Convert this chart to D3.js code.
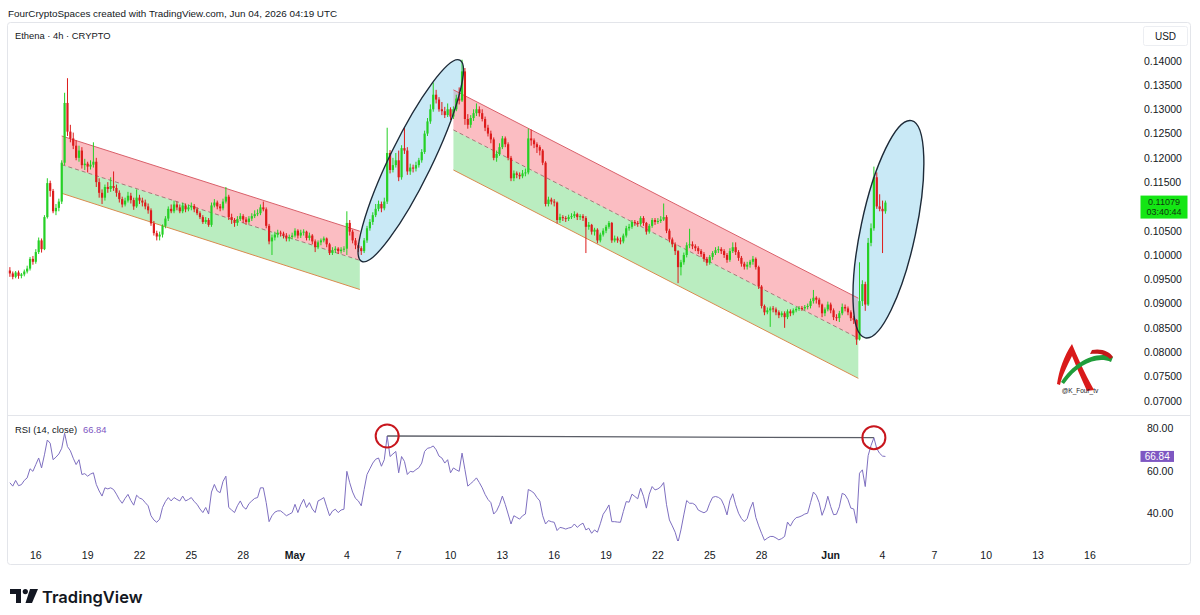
<!DOCTYPE html>
<html><head><meta charset="utf-8">
<script src="https://cdn.jsdelivr.net/npm/d3@7"></script>
<style>
html,body{margin:0;padding:0;background:#fff;}
svg{display:block;font-family:"Liberation Sans",Arial,sans-serif;}
</style></head><body>
<svg id="chart" width="1200" height="615"></svg>
<script>
// ---------------- DATA ----------------
const headerText = "FourCryptoSpaces created with TradingView.com, Jun 04, 2026 04:19 UTC";
const symbolText = "Ethena · 4h · CRYPTO";
const firstCandleTime = "2026-04-14T12:00:00Z";
const candleHours = 4;
// [open, high, low, close] in USD, one per 4h candle
const candles = [
[.0968,.0975,.0955,.0962],[.0962,.0966,.0950,.0955],[.0955,.0967,.0952,.0964],[.0964,.0968,.0951,.0957],[.0957,.0963,.0952,.0960],
[.0960,.0970,.0956,.0966],[.0966,.0978,.0962,.0972],[.0972,.0996,.0968,.0992],[.0992,.0998,.0980,.0986],[.0986,.1012,.0982,.1006],
[.1006,.1036,.1002,.1030],[.1030,.1034,.1005,.1012],[.1012,.1082,.1010,.1078],[.1078,.1158,.1075,.1148],[.1148,.1153,.1120,.1132],
[.1132,.1136,.1086,.1090],[.1090,.1105,.1082,.1097],[.1097,.1116,.1090,.1110],[.1110,.1195,.1105,.1190],[.1190,.1334,.1185,.1313],
[.1313,.1364,.1245,.1254],[.1254,.1268,.1232,.1240],[.1240,.1252,.1218,.1225],[.1225,.1236,.1195,.1200],[.1200,.1225,.1192,.1215],
[.1215,.1222,.1178,.1185],[.1185,.1198,.1175,.1188],[.1188,.1192,.1170,.1182],[.1182,.1195,.1176,.1186],[.1186,.1232,.1180,.1192],
[.1192,.1200,.1140,.1150],[.1150,.1158,.1118,.1128],[.1128,.1135,.1105,.1118],[.1118,.1145,.1112,.1140],[.1140,.1150,.1128,.1136],
[.1136,.1160,.1130,.1142],[.1142,.1172,.1132,.1138],[.1138,.1145,.1120,.1128],[.1128,.1133,.1108,.1115],[.1115,.1120,.1098,.1104],
[.1104,.1118,.1100,.1112],[.1112,.1130,.1108,.1122],[.1122,.1128,.1106,.1113],[.1113,.1118,.1093,.1100],[.1100,.1135,.1097,.1118],
[.1118,.1124,.1105,.1112],[.1112,.1118,.1100,.1108],[.1108,.1114,.1094,.1100],[.1100,.1106,.1085,.1092],[.1092,.1096,.1060,.1065],
[.1065,.1070,.1040,.1045],[.1045,.1050,.1030,.1038],[.1038,.1048,.1030,.1042],[.1042,.1063,.1036,.1060],[.1060,.1080,.1055,.1075],
[.1075,.1100,.1070,.1095],[.1095,.1104,.1086,.1090],[.1090,.1112,.1086,.1104],[.1104,.1110,.1092,.1098],[.1098,.1104,.1086,.1090],
[.1090,.1108,.1086,.1102],[.1102,.1106,.1088,.1094],[.1094,.1104,.1090,.1098],[.1098,.1108,.1092,.1101],[.1101,.1105,.1088,.1094],
[.1094,.1098,.1082,.1086],[.1086,.1090,.1074,.1078],[.1078,.1082,.1064,.1068],[.1068,.1078,.1064,.1072],[.1072,.1076,.1058,.1062],
[.1062,.1108,.1058,.1102],[.1102,.1115,.1098,.1108],[.1108,.1112,.1094,.1100],[.1100,.1105,.1090,.1096],[.1096,.1116,.1092,.1110],
[.1110,.1140,.1106,.1120],[.1120,.1124,.1072,.1078],[.1078,.1085,.1064,.1072],[.1072,.1076,.1058,.1066],[.1066,.1080,.1060,.1074],
[.1074,.1086,.1070,.1080],[.1080,.1084,.1066,.1073],[.1073,.1078,.1062,.1068],[.1068,.1080,.1064,.1075],[.1075,.1086,.1070,.1080],
[.1080,.1092,.1076,.1084],[.1084,.1094,.1080,.1086],[.1086,.1104,.1082,.1098],[.1098,.1110,.1090,.1094],[.1094,.1098,.1055,.1060],
[.1060,.1064,.1022,.1028],[.1028,.1042,.1000,.1036],[.1036,.1048,.1030,.1042],[.1042,.1052,.1036,.1046],[.1046,.1050,.1038,.1044],
[.1044,.1048,.1034,.1040],[.1040,.1045,.1028,.1034],[.1034,.1042,.1028,.1037],[.1037,.1046,.1032,.1040],[.1040,.1055,.1036,.1050],
[.1050,.1053,.1034,.1040],[.1040,.1052,.1035,.1046],[.1046,.1053,.1040,.1048],[.1048,.1050,.1030,.1035],[.1035,.1046,.1030,.1040],
[.1040,.1043,.1022,.1028],[.1028,.1032,.1006,.1016],[.1016,.1030,.1012,.1026],[.1026,.1034,.1020,.1030],[.1030,.1038,.1026,.1034],
[.1034,.1036,.1016,.1022],[.1022,.1025,.1000,.1004],[.1004,.1016,.1000,.1010],[.1010,.1018,.1004,.1013],[.1013,.1016,.1002,.1008],
[.1008,.1016,.1003,.1011],[.1011,.1018,.1006,.1013],[.1013,.1090,.1000,.1066],[.1066,.1072,.1040,.1048],[.1048,.1052,.1024,.1030],
[.1030,.1035,.1012,.1020],[.1020,.1025,.1006,.1014],[.1014,.1018,.1000,.1008],[.1008,.1035,.1004,.1030],[.1030,.1060,.1025,.1055],
[.1055,.1074,.1050,.1068],[.1068,.1088,.1062,.1082],[.1082,.1105,.1078,.1095],[.1095,.1112,.1090,.1105],[.1105,.1110,.1088,.1096],
[.1096,.1118,.1092,.1110],[.1110,.1262,.1105,.1210],[.1210,.1216,.1168,.1175],[.1175,.1200,.1170,.1185],[.1185,.1210,.1180,.1195],
[.1195,.1215,.1152,.1160],[.1160,.1226,.1155,.1220],[.1220,.1262,.1208,.1215],[.1215,.1222,.1165,.1172],[.1172,.1188,.1165,.1180],
[.1180,.1186,.1170,.1178],[.1178,.1192,.1172,.1185],[.1185,.1200,.1180,.1195],[.1195,.1218,.1190,.1212],[.1212,.1256,.1208,.1250],
[.1250,.1282,.1245,.1275],[.1275,.1310,.1270,.1300],[.1300,.1355,.1295,.1330],[.1330,.1340,.1312,.1320],[.1320,.1325,.1295,.1300],
[.1300,.1315,.1288,.1296],[.1296,.1305,.1282,.1288],[.1288,.1312,.1284,.1300],[.1300,.1304,.1278,.1285],[.1285,.1306,.1280,.1300],
[.1300,.1330,.1296,.1322],[.1322,.1345,.1310,.1318],[.1318,.1402,.1315,.1378],[.1378,.1385,.1268,.1280],[.1280,.1290,.1260,.1268],
[.1268,.1288,.1262,.1282],[.1282,.1300,.1276,.1292],[.1292,.1312,.1286,.1300],[.1300,.1306,.1285,.1292],[.1292,.1300,.1275,.1280],
[.1280,.1285,.1255,.1262],[.1262,.1268,.1244,.1250],[.1250,.1256,.1230,.1238],[.1238,.1242,.1195,.1200],[.1200,.1215,.1192,.1208],
[.1208,.1230,.1204,.1222],[.1222,.1245,.1218,.1240],[.1240,.1244,.1222,.1228],[.1228,.1232,.1195,.1200],[.1200,.1204,.1152,.1158],
[.1158,.1174,.1152,.1168],[.1168,.1172,.1158,.1165],[.1165,.1170,.1156,.1162],[.1162,.1175,.1158,.1168],[.1168,.1178,.1162,.1170],
[.1170,.1260,.1166,.1240],[.1240,.1258,.1225,.1236],[.1236,.1240,.1220,.1228],[.1228,.1232,.1210,.1222],[.1222,.1226,.1205,.1215],
[.1215,.1218,.1185,.1190],[.1190,.1193,.1100,.1105],[.1105,.1120,.1100,.1114],[.1114,.1118,.1104,.1110],[.1110,.1115,.1100,.1108],
[.1108,.1110,.1065,.1072],[.1072,.1085,.1066,.1078],[.1078,.1082,.1070,.1076],[.1076,.1080,.1068,.1074],[.1074,.1083,.1070,.1078],
[.1078,.1086,.1074,.1080],[.1080,.1090,.1076,.1084],[.1084,.1087,.1072,.1078],[.1078,.1084,.1072,.1080],[.1080,.1084,.1070,.1076],
[.1076,.1080,.1004,.1058],[.1058,.1068,.1052,.1062],[.1062,.1064,.1042,.1048],[.1048,.1056,.1040,.1052],[.1052,.1055,.1024,.1030],
[.1030,.1046,.1026,.1042],[.1042,.1055,.1038,.1050],[.1050,.1062,.1045,.1058],[.1058,.1070,.1054,.1066],[.1066,.1068,.1025,.1030],
[.1030,.1040,.1026,.1034],[.1034,.1038,.1025,.1030],[.1030,.1036,.1022,.1028],[.1028,.1044,.1024,.1040],[.1040,.1060,.1036,.1055],
[.1055,.1064,.1050,.1058],[.1058,.1072,.1054,.1068],[.1068,.1072,.1060,.1066],[.1066,.1070,.1058,.1064],[.1064,.1080,.1060,.1076],
[.1076,.1080,.1060,.1066],[.1066,.1068,.1042,.1048],[.1048,.1064,.1044,.1060],[.1060,.1076,.1056,.1072],[.1072,.1076,.1062,.1068],
[.1068,.1076,.1064,.1070],[.1070,.1080,.1066,.1073],[.1073,.1106,.1070,.1078],[.1078,.1082,.1045,.1050],[.1050,.1054,.1026,.1032],
[.1032,.1036,.1016,.1022],[.1022,.1026,.1000,.1008],[.1008,.1010,.0942,.0975],[.0975,.0990,.0958,.0985],[.0985,.1005,.0980,.1000],
[.1000,.1026,.0995,.1020],[.1020,.1054,.1014,.1022],[.1022,.1028,.1012,.1018],[.1018,.1022,.1008,.1014],[.1014,.1018,.1002,.1008],
[.1008,.1012,.0996,.1002],[.1002,.1006,.0986,.0992],[.0992,.0996,.0978,.0984],[.0984,.1000,.0980,.0996],[.0996,.1008,.0990,.1004],
[.1004,.1016,.1000,.1010],[.1010,.1018,.1004,.1012],[.1012,.1016,.1002,.1008],[.1008,.1012,.0994,.1000],[.1000,.1004,.0984,.0990],
[.0990,.1014,.0986,.1008],[.1008,.1026,.1004,.1016],[.1016,.1026,.1000,.1006],[.1006,.1010,.0988,.0994],[.0994,.0998,.0976,.0982],
[.0982,.0986,.0970,.0976],[.0976,.0986,.0970,.0980],[.0980,.0990,.0974,.0986],[.0986,.0998,.0980,.0992],[.0992,.0995,.0970,.0975],
[.0975,.0978,.0930,.0935],[.0935,.0938,.0890,.0895],[.0895,.0898,.0876,.0882],[.0882,.0892,.0878,.0886],[.0886,.0894,.0852,.0890],
[.0890,.0895,.0882,.0888],[.0888,.0892,.0876,.0882],[.0882,.0886,.0870,.0876],[.0876,.0884,.0872,.0880],[.0880,.0884,.0850,.0872],
[.0872,.0888,.0868,.0884],[.0884,.0888,.0874,.0880],[.0880,.0890,.0876,.0886],[.0886,.0893,.0882,.0889],[.0889,.0895,.0885,.0891],
[.0891,.0895,.0885,.0890],[.0890,.0897,.0886,.0893],[.0893,.0900,.0888,.0895],[.0895,.0910,.0890,.0905],[.0905,.0928,.0900,.0912],
[.0912,.0915,.0900,.0908],[.0908,.0912,.0892,.0898],[.0898,.0900,.0872,.0880],[.0880,.0892,.0874,.0888],[.0888,.0904,.0884,.0898],
[.0898,.0902,.0880,.0886],[.0886,.0890,.0866,.0872],[.0872,.0878,.0864,.0870],[.0870,.0885,.0862,.0880],[.0880,.0900,.0876,.0893],
[.0893,.0898,.0884,.0890],[.0890,.0894,.0876,.0882],[.0882,.0886,.0864,.0870],[.0870,.0875,.0858,.0866],[.0866,.0868,.0815,.0826],
[.0826,.0985,.0824,.0905],[.0905,.0948,.0895,.0940],[.0940,.0945,.0885,.0898],[.0898,.1035,.0895,.1025],[.1025,.1065,.1018,.1055],
[.1055,.1182,.1050,.1160],[.1160,.1170,.1095,.1100],[.1100,.1125,.1090,.1095],[.1095,.1112,.1004,.1090],[.1090,.1112,.1085,.11079]
];
// RSI(14, close), one value per candle
const rsiValues = [
54.4,52.8,55.5,53.0,53.5,55.5,56.7,61.0,59.8,63.0,
66.1,61.4,67.6,74.6,73.1,65.3,66.5,68.0,70.7,77.8,
71.5,69.5,66.0,63.0,65.3,58.3,58.7,57.5,58.5,59.1,
53.6,50.5,48.1,52.0,51.5,52.0,51.2,49.0,46.5,44.7,
47.0,48.9,46.0,43.8,48.5,47.2,46.6,45.0,43.5,38.8,
36.8,35.7,37.2,42.7,45.5,47.4,45.8,47.4,46.5,45.8,
48.1,45.8,46.5,47.4,45.5,44.2,42.0,40.3,42.7,39.6,
50.0,53.6,50.5,49.7,55.0,57.5,42.7,41.5,40.3,43.5,
45.8,43.0,41.9,44.5,45.8,47.0,47.4,52.0,52.0,45.0,
36.0,38.8,40.5,41.1,41.1,40.0,38.8,39.5,40.3,44.2,
40.3,44.0,46.6,42.7,45.0,42.0,40.3,45.8,46.5,47.4,
43.0,38.8,41.0,41.9,40.3,41.5,41.9,59.8,54.4,50.0,
47.0,45.8,43.5,51.2,58.3,61.0,63.7,65.5,66.1,62.2,
65.3,76.5,66.8,68.0,69.2,59.1,66.8,64.5,58.3,59.8,
59.5,60.6,61.5,63.7,69.2,70.7,71.0,71.8,70.0,67.0,
66.1,63.7,65.3,59.1,61.4,60.5,59.8,68.4,60.6,52.8,
54.0,55.2,56.7,54.5,52.0,48.9,46.5,45.0,39.6,41.1,
44.0,48.1,44.2,39.6,34.9,38.8,38.0,37.2,38.8,39.6,
51.2,50.5,49.5,47.4,45.8,38.8,34.9,36.5,36.0,35.7,
31.8,33.3,33.0,32.5,33.0,33.3,34.9,33.3,34.5,35.3,
32.1,32.9,30.5,32.1,31.0,35.0,39.5,41.5,43.9,36.0,
36.0,35.8,35.7,40.8,45.5,45.2,49.0,47.9,46.8,51.8,
48.0,42.4,49.0,52.6,51.0,51.5,52.5,54.5,44.0,36.8,
34.0,31.0,26.3,32.1,39.2,46.0,44.7,44.7,43.9,41.5,
40.8,40.2,41.0,44.7,47.5,47.9,47.5,46.5,43.5,39.2,
46.0,49.2,44.0,40.0,37.5,36.0,37.5,42.0,45.2,38.0,
34.0,30.5,27.2,28.2,29.0,29.0,28.3,27.4,28.0,29.0,
35.8,33.9,36.4,37.9,38.2,38.8,39.6,40.0,45.0,50.0,
48.5,45.0,39.0,42.5,48.0,43.1,39.3,39.5,43.0,49.4,
48.7,46.4,42.4,42.0,35.3,58.9,60.5,52.6,67.2,72.0,
75.7,70.5,68.3,67.0,66.84
];
// visible price-scale labels (0.11000 is covered by the last-price tag in the reference)
const priceTicks = [0.07,0.075,0.08,0.085,0.09,0.095,0.10,0.105,0.115,0.12,0.125,0.13,0.135,0.14];
const rsiTicks = [40,60,80];
const dateTicks = ["2026-04-16","2026-04-19","2026-04-22","2026-04-25","2026-04-28","2026-05-01","2026-05-04","2026-05-07","2026-05-10","2026-05-13","2026-05-16","2026-05-19","2026-05-22","2026-05-25","2026-05-28","2026-06-01","2026-06-04","2026-06-07","2026-06-10","2026-06-13","2026-06-16"];
const dateTickLabels = ["16","19","22","25","28","May","4","7","10","13","16","19","22","25","28","Jun","4","7","10","13","16"];
// regression channels: [time, upper price, lower price] at start and end
const channelStarts = [["2026-04-17T12:00:00Z",0.1245,0.1127],["2026-05-10T04:00:00Z",0.1340,0.1175]];
const channelEnds   = [["2026-05-04T18:00:00Z",0.1049,0.0929],["2026-06-02T14:24:00Z",0.0911,0.0746]];
// highlight ellipses: centre time, centre price
const ellipseCentres = [["2026-05-07T16:48:00Z",0.1194],["2026-06-04T08:10:00Z",0.1053]];
// RSI peaks that are circled and joined (candle index)
const rsiPeakIndexes = [131, 300];
const lastPrice = 0.11079, countdown = "03:40:44", lastRsi = 66.84;

// ---------------- DRAW ----------------
const svg = d3.select("#chart");
const W = 1200, H = 615;
const t0 = new Date(firstCandleTime).getTime();
const times = candles.map((d,i)=> new Date(t0 + i*candleHours*3600e3));

const x = d3.scaleUtc().domain([new Date("2026-04-16T00:00:00Z"), new Date("2026-06-16T00:00:00Z")]).range([35.8, 1089.9]);
const yP = d3.scaleLinear().domain([0.07,0.14]).range([400.7,60.7]);
const yR = d3.scaleLinear().domain([40,80]).range([513.2,428.6]);

const UP = "#25d025", DOWN = "#dd1c1c", TXT = "#131722";

svg.append("rect").attr("width",W).attr("height",H).attr("fill","#fff");
// header
svg.append("text").attr("x",8).attr("y",17).attr("font-size",9.9).attr("fill",TXT).text(headerText);
// frame
svg.append("rect").attr("x",7.5).attr("y",22.5).attr("width",1183).attr("height",542).attr("rx",3)
  .attr("fill","none").attr("stroke","#e3e5ea");
svg.append("line").attr("x1",8).attr("x2",1190).attr("y1",415.5).attr("y2",415.5).attr("stroke","#e3e5ea");

const defs = svg.append("defs");
defs.append("clipPath").attr("id","cp").append("rect").attr("x",8).attr("y",23).attr("width",1130).attr("height",392);
defs.append("clipPath").attr("id","cr").append("rect").attr("x",8).attr("y",416).attr("width",1130).attr("height",125);

const gP = svg.append("g").attr("clip-path","url(#cp)");

// channels
channelStarts.forEach((s,k)=>{
  const e = channelEnds[k];
  const xs = x(new Date(s[0])), xe = x(new Date(e[0]));
  const mS = (s[1]+s[2])/2, mE = (e[1]+e[2])/2;
  gP.append("path").attr("d",`M${xs},${yP(s[1])}L${xe},${yP(e[1])}L${xe},${yP(mE)}L${xs},${yP(mS)}Z`)
    .attr("fill","rgba(242,54,69,0.33)");
  gP.append("path").attr("d",`M${xs},${yP(mS)}L${xe},${yP(mE)}L${xe},${yP(e[2])}L${xs},${yP(s[2])}Z`)
    .attr("fill","rgba(40,200,60,0.32)");
});

// ellipse fills
const ellGeom = [{rx:112, ry:21, a:-64},{rx:111, ry:27.5, a:-78}];
ellipseCentres.forEach((c,k)=>{
  const g = ellGeom[k];
  gP.append("ellipse").attr("cx",0).attr("cy",0).attr("rx",g.rx).attr("ry",g.ry)
    .attr("transform",`translate(${x(new Date(c[0]))},${yP(c[1])}) rotate(${g.a})`)
    .attr("fill","rgba(135,206,235,0.45)");
});

// channel lines on top of fills
channelStarts.forEach((s,k)=>{
  const e = channelEnds[k];
  const xs = x(new Date(s[0])), xe = x(new Date(e[0]));
  const mS = (s[1]+s[2])/2, mE = (e[1]+e[2])/2;
  gP.append("line").attr("x1",xs).attr("y1",yP(s[1])).attr("x2",xe).attr("y2",yP(e[1])).attr("stroke","#d9606a").attr("stroke-width",1);
  gP.append("line").attr("x1",xs).attr("y1",yP(mS)).attr("x2",xe).attr("y2",yP(mE)).attr("stroke","#a77a7a").attr("stroke-width",1).attr("stroke-dasharray","4,3");
  gP.append("line").attr("x1",xs).attr("y1",yP(s[2])).attr("x2",xe).attr("y2",yP(e[2])).attr("stroke","#d98a4e").attr("stroke-width",1);
});

// candles
const cg = gP.append("g");
candles.forEach((d,i)=>{
  const [o,h,l,c] = d;
  const cx = x(times[i]);
  const col = c >= o ? UP : DOWN;
  cg.append("rect").attr("x",cx-0.5).attr("width",1).attr("y",yP(h)).attr("height",Math.max(1,yP(l)-yP(h))).attr("fill",col);
  const top = yP(Math.max(o,c)), bot = yP(Math.min(o,c));
  cg.append("rect").attr("x",cx-1.1).attr("width",2.2).attr("y",top).attr("height",Math.max(1,bot-top)).attr("fill",col);
});

// ellipse outlines
ellipseCentres.forEach((c,k)=>{
  const g = ellGeom[k];
  gP.append("ellipse").attr("cx",0).attr("cy",0).attr("rx",g.rx).attr("ry",g.ry)
    .attr("transform",`translate(${x(new Date(c[0]))},${yP(c[1])}) rotate(${g.a})`)
    .attr("fill","none").attr("stroke","#1d2a38").attr("stroke-width",1.4);
});

// symbol text
svg.append("text").attr("x",15).attr("y",38.5).attr("font-size",9.4).attr("fill",TXT).text(symbolText);

// price axis
const pa = svg.append("g");
priceTicks.forEach(v=>{
  pa.append("text").attr("x",1144).attr("y",yP(v)+3.8).attr("font-size",10.5).attr("fill",TXT).text(d3.format(".5f")(v));
});
pa.append("rect").attr("x",1143.5).attr("y",26.5).attr("width",44).attr("height",19).attr("rx",2).attr("fill","#fff").attr("stroke","#eceef2");
pa.append("text").attr("x",1165.5).attr("y",39.5).attr("text-anchor","middle").attr("font-size",10).attr("fill",TXT).text("USD");
// last price box
const yl = yP(lastPrice);
pa.append("rect").attr("x",1140.5).attr("y",yl-7).attr("width",47).attr("height",23).attr("fill","#14e614");
pa.append("text").attr("x",1164).attr("y",yl+2.2).attr("text-anchor","middle").attr("font-size",9).attr("fill","#103810").text(d3.format(".5f")(lastPrice));
pa.append("text").attr("x",1164).attr("y",yl+12.6).attr("text-anchor","middle").attr("font-size",9).attr("fill","#103810").text(countdown);

// watermark logo
const wm = svg.append("g");
wm.append("path").attr("d","M1057,384 C1059,370 1064,356 1072,344 C1077,356 1084,372 1094,390 L1087,391 C1081,378 1076,366 1072,356 C1067,366 1062,376 1060,385 Z").attr("fill","#d91a1a");
wm.append("path").attr("d","M1061,382 C1074,362 1096,350 1113,357 L1111,362 C1097,356 1078,364 1064,384 Z").attr("fill","#1f9d3a");
wm.append("path").attr("d","M1092,350 C1102,348 1110,352 1113,357 L1110,359 C1106,355 1100,353 1090,354 Z").attr("fill","#c21818");
wm.append("text").attr("x",1080).attr("y",393).attr("text-anchor","middle").attr("font-size",6.5).attr("fill","#222").text("@K_Four_tv");

// ---------- RSI pane ----------
const gR = svg.append("g").attr("clip-path","url(#cr)");
const rsiLine = d3.line().x((d,i)=>x(times[i])).y(d=>yR(d));
gR.append("path").datum(rsiValues).attr("d",rsiLine).attr("fill","none").attr("stroke","#7e6fc0").attr("stroke-width",1);
const pk = rsiPeakIndexes.map(i=>[x(times[i]), yR(rsiValues[i])]);
gR.append("line").attr("x1",pk[0][0]).attr("y1",pk[0][1]).attr("x2",pk[1][0]).attr("y2",pk[1][1]).attr("stroke","#5a5d66").attr("stroke-width",1.3);
pk.forEach(p=>{
  gR.append("circle").attr("cx",p[0]).attr("cy",p[1]).attr("r",11.5).attr("fill","none").attr("stroke","#c8161d").attr("stroke-width",2);
});
svg.append("text").attr("x",15).attr("y",433).attr("font-size",9.4).attr("fill",TXT).text("RSI (14, close)");
svg.append("text").attr("x",83).attr("y",433).attr("font-size",9.4).attr("fill","#7e57c2").text(d3.format(".2f")(lastRsi));
rsiTicks.forEach(v=>{
  svg.append("text").attr("x",1147).attr("y",yR(v)+3.8).attr("font-size",10.5).attr("fill",TXT).text(d3.format(".2f")(v));
});
const yr = yR(lastRsi);
svg.append("rect").attr("x",1140.5).attr("y",yr-5.5).attr("width",33.5).attr("height",11).attr("fill","#7e57c2");
svg.append("text").attr("x",1157.2).attr("y",yr+3.6).attr("text-anchor","middle").attr("font-size",10).attr("fill","#fff").text(d3.format(".2f")(lastRsi));

// ---------- time axis ----------
dateTicks.forEach((d,k)=>{
  const lab = dateTickLabels[k];
  svg.append("text").attr("x",x(new Date(d+"T00:00:00Z"))).attr("y",559).attr("text-anchor","middle")
    .attr("font-size",10.5).attr("font-weight", isNaN(+lab)?"bold":"normal").attr("fill",TXT).text(lab);
});

// ---------- TradingView footer ----------
const ft = svg.append("g").attr("fill","#131722");
ft.append("path").attr("d","M10,589 H21 V603 H16 V594 H10 Z");
ft.append("circle").attr("cx",25.3).attr("cy",591.6).attr("r",2.6);
ft.append("path").attr("d","M30,589 H38 L32,603 H25.5 Z");
ft.append("text").attr("x",42).attr("y",602.5).attr("font-family","Inter, 'Liberation Sans', sans-serif").attr("font-weight",600).attr("font-size",16.5).text("TradingView");
</script>
</body></html>
